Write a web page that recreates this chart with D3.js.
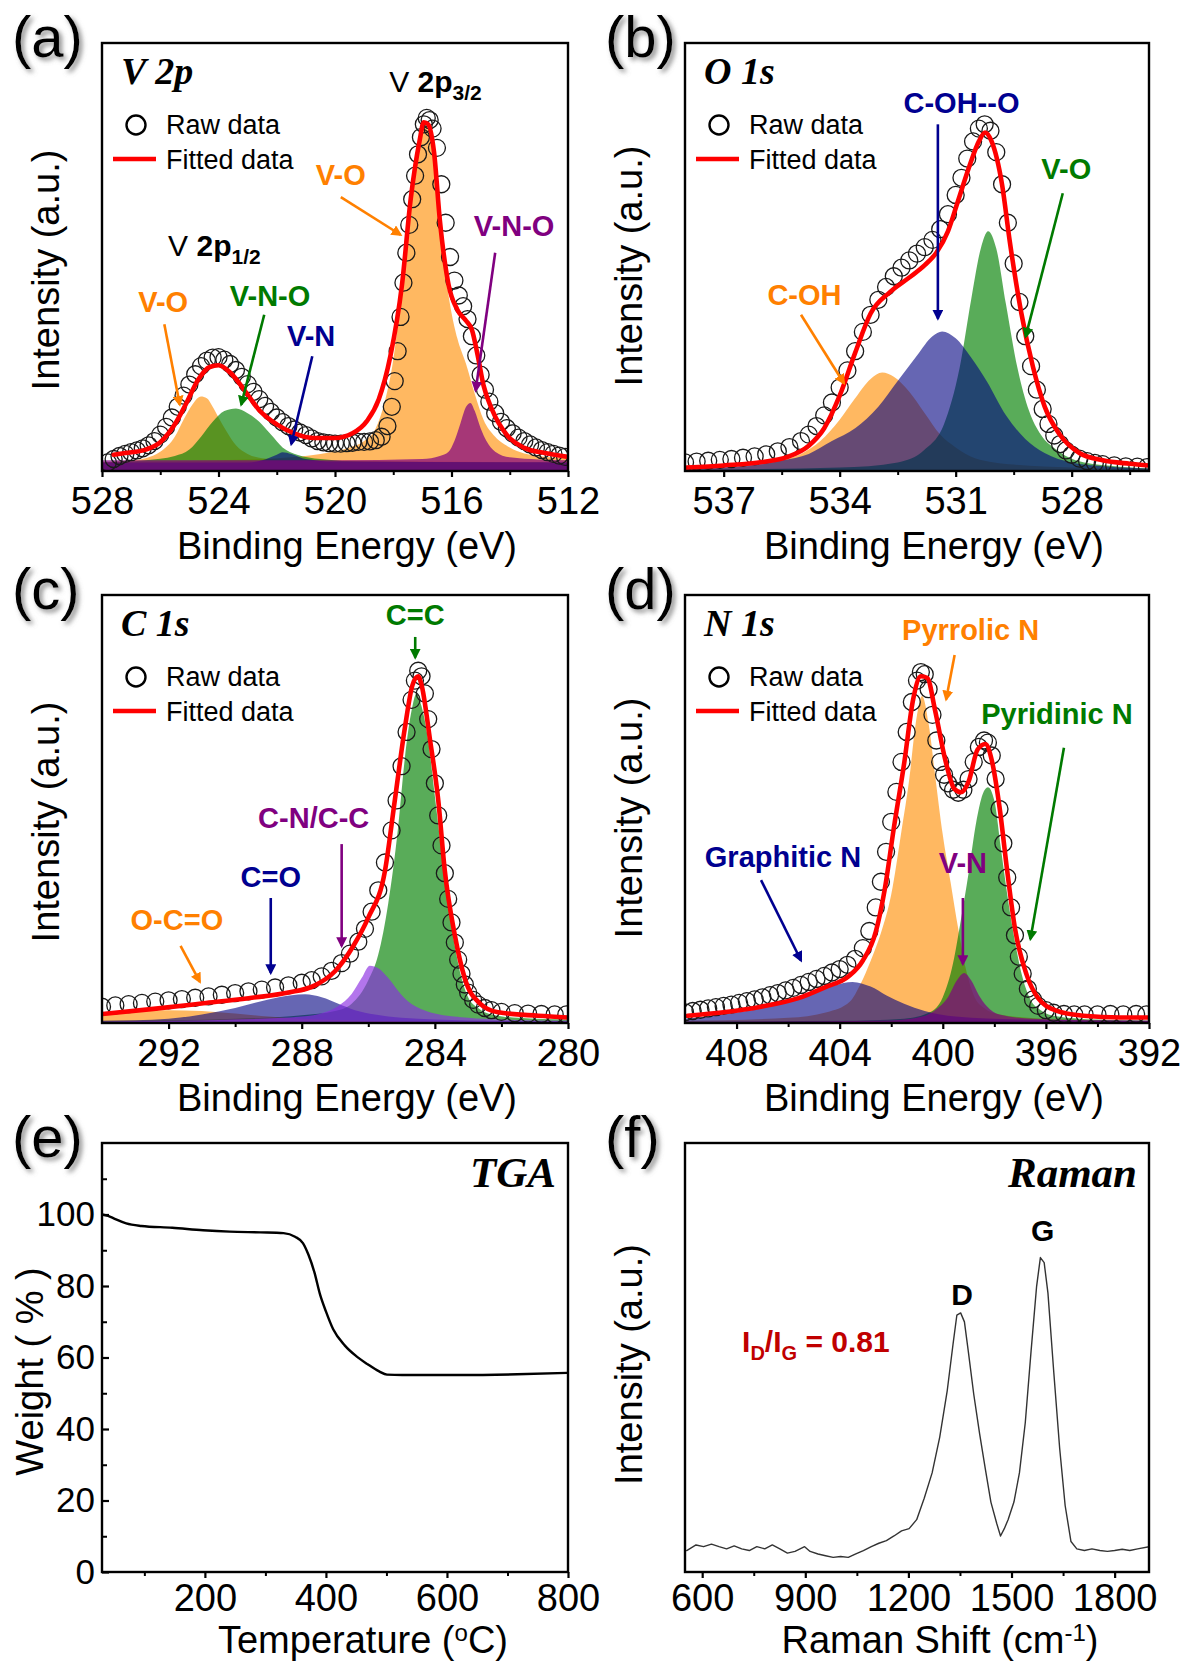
<!DOCTYPE html>
<html>
<head>
<meta charset="utf-8">
<script src="https://cdn.jsdelivr.net/npm/d3@7"></script>
<style>
  body { margin: 0; background: #fff; }
  svg { display: block; background: #fff; }
</style>
</head>
<body>
<div id="chart"></div>
<script>
/* XPS (V 2p, O 1s, C 1s, N 1s), TGA and Raman panels. */

// ---- (a) V 2p : [binding energy, intensity %] ----
const v2pRaw = [[527.8,2.0],[527.6,2.8],[527.4,3.5],[527.2,4.0],[527.0,4.4],[526.8,4.8],[526.6,5.3],[526.4,6.0],[526.2,7.0],[526.0,8.5],
  [525.8,10.3],[525.6,12.5],[525.4,15.0],[525.2,17.6],[525.0,20.2],[524.8,22.6],[524.6,24.5],[524.4,25.8],[524.2,26.5],[524.0,26.6],
  [523.8,26.0],[523.6,25.0],[523.4,23.6],[523.2,22.0],[523.0,20.3],[522.8,18.5],[522.6,16.8],[522.4,15.2],[522.2,13.8],[522.0,12.5],
  [521.8,11.4],[521.6,10.5],[521.4,9.7],[521.2,9.0],[521.0,8.4],[520.8,7.6],[520.6,7.0],[520.4,6.7],[520.2,6.5],[520.0,6.4],
  [519.8,6.4],[519.6,6.5],[519.4,6.6],[519.2,6.8],[519.0,6.8],[518.8,6.9],[518.6,7.2],[518.4,8.0],[518.2,10.5],[518.05,15],
  [517.95,21],[517.85,28],[517.75,36],[517.65,44],[517.55,51],[517.45,57.5],[517.35,63.5],[517.25,69],[517.15,74],[517.05,78],
  [516.95,81],[516.85,82.5],[516.75,82],[516.65,80],[516.5,75.5],[516.35,67],[516.2,58],[516.05,50],[515.9,44.5],[515.75,41],
  [515.6,38.5],[515.45,35.5],[515.3,31.5],[515.15,27],[515.0,22.5],[514.85,19],[514.7,16.2],[514.5,13.5],[514.3,11.5],[514.1,10],
  [513.9,8.8],[513.7,7.8],[513.5,7.0],[513.3,6.2],[513.1,5.5],[512.9,4.9],[512.7,4.4],[512.5,4.0],[512.3,3.6],[512.1,3.3]];
const v2pFit = [[527.6,3.8],[527.2,4.2],[526.5,5.0],[526.0,6.7],[525.5,10.9],[525.1,15.9],[524.7,21.3],[524.3,24.3],[524.0,24.7],
  [523.6,23.0],[523.1,18.8],[522.6,14.2],[522.0,10.9],[521.4,8.8],[520.7,7.7],[520.0,7.7],[519.4,8.8],[518.9,11.7],[518.5,16.7],
  [518.1,26.8],[517.7,43.5],[517.4,63.6],[517.1,77],[516.95,81.5],[516.8,81],[516.6,74.5],[516.4,58.6],[516.1,43.5],[515.8,37.7],
  [515.5,35.1],[515.3,33],[515.1,27],[514.9,20],[514.6,14.2],[514.1,8.4],[513.5,5.4],[512.8,4.2],[512.0,3.3]];
const v2pVO32 = [[528,2],[524,2.5],[522,3],[520.5,4],[519.5,5.5],[519,7],[518.6,10],[518.3,16],[518.0,26],[517.7,43],[517.5,56],
  [517.3,67],[517.1,77],[516.95,81],[516.8,79.5],[516.6,73],[516.4,60],[516.2,46],[516.0,37],[515.8,31],[515.5,25],[515.2,18],
  [514.9,12],[514.5,8],[514.0,5.5],[513.0,3.5],[512,3]];
const v2pVO12 = [[528,2],[527,2.5],[526.5,3],[526,4.5],[525.5,8],[525.2,12],[524.9,15.5],[524.6,17.4],[524.4,17],[524.2,15],
  [524,12.5],[523.7,9],[523.4,6],[523,4],[522.5,3],[521,2.5],[512,2]];
const v2pVNO12 = [[528,2],[526.5,2.5],[525.5,3.5],[525,5],[524.6,8],[524.2,11.5],[523.8,14],[523.4,14.6],[523.0,13.5],[522.6,11.5],
  [522.2,8.5],[521.8,5.5],[521.3,3.8],[520.5,2.8],[519,2.2],[512,2]];
const v2pVN = [[528,2],[523,2],[522.5,2.5],[522.0,3.8],[521.8,4.4],[521.5,4],[521.0,2.8],[520,2.2],[512,2]];
const v2pVNO32 = [[528,2.5],[520,2.5],[517,2.8],[516.4,3.5],[516.1,4.5],[515.9,7],[515.7,11],[515.5,15],[515.35,15.9],[515.2,14],
  [515.0,10],[514.8,7],[514.5,4.5],[514.0,3.2],[513,2.7],[512,2.5]];
const v2pTicks = [528, 524, 520, 516, 512], v2pMinor = [526, 522, 518, 514];

// ---- (b) O 1s ----
const o1sRaw = [[538.0,2.0],[537.7,2.2],[537.4,2.4],[537.1,2.6],[536.8,2.8],[536.5,3.1],[536.2,3.4],[535.9,3.9],[535.6,4.6],[535.3,5.6],
  [535.0,7.0],[534.8,8.5],[534.6,10.5],[534.4,13.0],[534.2,16.0],[534.0,19.5],[533.8,23.5],[533.6,28.0],[533.4,32.5],[533.2,36.5],
  [533.0,40.0],[532.8,43.0],[532.6,45.5],[532.4,47.5],[532.2,49.2],[532.0,50.8],[531.8,52.3],[531.6,54.0],[531.4,56.5],[531.2,60.0],
  [531.0,64.5],[530.85,68.5],[530.7,73],[530.55,77],[530.4,80],[530.25,81],[530.1,79.5],[529.95,74.5],[529.8,67],[529.65,58],
  [529.5,48.5],[529.35,39.5],[529.2,31.5],[529.05,24.5],[528.9,19],[528.75,14.5],[528.6,11],[528.45,8.3],[528.3,6.3],[528.15,4.8],
  [528.0,3.8],[527.8,2.9],[527.6,2.3],[527.4,1.9],[527.2,1.6],[526.9,1.3],[526.6,1.1],[526.3,1.0],[526.05,0.9]];
const o1sFit = [[537.95,0.8],[537,1.3],[536,2.1],[535.35,3.3],[534.8,5.9],[534.4,10],[534.0,17.6],[533.6,27.6],[533.2,36.8],
  [532.7,41.8],[532.2,45.2],[531.8,48.1],[531.5,51],[531.2,56],[530.95,62.8],[530.65,71.1],[530.4,77],[530.24,79.1],[530.07,77],
  [529.8,66.9],[529.6,53.6],[529.3,36.8],[529.0,24.3],[528.7,15.1],[528.3,8.4],[527.8,4.2],[527.2,2.5],[526.5,1.7],[526,1.3]];
const o1sCOH = [[538,0.5],[536.5,1],[535.5,2.5],[535,4],[534.5,7],[534,12],[533.6,17],[533.2,21.5],[532.9,23],[532.6,22],
  [532.2,18.5],[531.8,13.5],[531.4,8.5],[531,5.5],[530.5,3],[529.5,1.5],[528,0.8],[526,0.5]];
const o1sVO = [[538,0.3],[534,0.8],[532.5,2],[531.8,5],[531.3,11],[530.9,24],[530.6,40],[530.35,52],[530.16,56],[529.95,52],
  [529.7,39],[529.4,24],[529.1,14],[528.8,8.5],[528.4,5],[527.9,2.5],[527,1.2],[526,0.6]];
const o1sCOHO = [[538,0.5],[536.5,1.2],[535.5,2.5],[534.8,4],[534.2,7],[533.6,10],[533,15],[532.5,21],[532,27],[531.6,31.5],
  [531.35,32.6],[531.0,31],[530.6,26.5],[530.2,21],[529.7,13],[529.2,7.5],[528.7,4.2],[528,2],[527,1],[526,0.6]];
const o1sTicks = [537, 534, 531, 528], o1sMinor = [535.5, 532.5, 529.5, 526.5];

// ---- (c) C 1s ----
const c1sRaw = [[294.0,3.8],[293.6,4.1],[293.2,4.4],[292.8,4.7],[292.4,5.0],[292.0,5.3],[291.6,5.6],[291.2,5.9],[290.8,6.2],[290.4,6.6],
  [290.0,7.0],[289.6,7.4],[289.2,7.8],[288.8,8.3],[288.4,8.8],[288.0,9.4],[287.7,10.0],[287.4,10.9],[287.1,12.2],[286.8,14.0],
  [286.55,16.2],[286.3,19.0],[286.1,22.0],[285.9,26.0],[285.7,31.0],[285.5,37.5],[285.3,45.0],[285.15,52],[285.0,60],[284.85,68],
  [284.7,75.5],[284.6,80],[284.5,82.3],[284.4,81],[284.3,77],[284.2,71],[284.1,64],[284.0,56],[283.9,48.5],[283.8,41.5],
  [283.7,35],[283.6,29],[283.5,23.5],[283.4,18.8],[283.3,14.8],[283.2,11.5],[283.1,9.0],[283.0,7.1],[282.85,5.4],[282.7,4.3],
  [282.5,3.5],[282.3,3.0],[282.0,2.6],[281.6,2.3],[281.2,2.2],[280.8,2.1],[280.4,2.0],[280.05,2.0]];
const c1sFit = [[294,2.1],[292.45,3.3],[290.95,4.6],[289.6,5.8],[288.4,7.1],[287.6,8.8],[287.0,12.1],[286.45,18],[286.0,24.6],
  [285.5,35.5],[285.2,52.2],[284.9,69],[284.67,79],[284.5,81],[284.4,79],[284.15,66.4],[283.9,52.2],[283.7,35.5],[283.4,20.5],
  [283.1,10.4],[282.65,4.6],[282.1,2.5],[280.9,1.7],[280,1.3]];
const c1sCC = [[294,0.5],[290,1],[288,1.8],[287,2.8],[286.5,4.5],[286,10],[285.7,16],[285.4,28],[285.1,46],[284.9,62],[284.7,73],
  [284.55,77],[284.4,74],[284.2,66],[284.0,53],[283.8,40],[283.6,28],[283.4,18],[283.2,10.5],[283.0,6],[282.7,3.5],[282.3,2],
  [281.5,1.2],[280,0.8]];
const c1sOCO = [[294,2.2],[293,2.7],[292,3],[291,2.8],[290,2.2],[289,1.5],[288,1],[287,0.7],[285,0.4],[280,0.3]];
const c1sCO = [[294,0.5],[292,1],[291,2],[290,3.5],[289,5.5],[288.3,6.5],[287.9,6.7],[287.4,6],[286.9,4.5],[286.4,3],[285.8,2],
  [285,1.2],[283,0.6],[280,0.4]];
const c1sCN = [[294,0.3],[290,0.8],[288,1.5],[287.3,2.5],[286.9,4],[286.5,6.8],[286.2,10.5],[285.95,13.4],[285.7,12.8],[285.4,10.5],
  [285.1,7.5],[284.8,5],[284.4,3.2],[284,2.2],[283,1.2],[282,0.8],[280,0.5]];
const c1sTicks = [292, 288, 284, 280], c1sMinor = [290, 286, 282];

// ---- (d) N 1s ----
const n1sRaw = [[410.0,2.5],[409.7,2.8],[409.4,3.1],[409.1,3.4],[408.8,3.7],[408.5,4.0],[408.2,4.3],[407.9,4.7],[407.6,5.1],[407.3,5.5],
  [407.0,6.0],[406.7,6.5],[406.4,7.0],[406.1,7.6],[405.8,8.2],[405.5,8.9],[405.2,9.6],[404.9,10.3],[404.6,11.0],[404.3,11.8],
  [404.0,12.6],[403.7,13.6],[403.4,15.0],[403.1,17.5],[402.85,21.5],[402.6,27],[402.4,33],[402.2,40],[402.0,47],[401.8,54],
  [401.6,61],[401.4,68],[401.2,75],[401.0,80],[400.85,82],[400.7,81.5],[400.55,78],[400.4,72],[400.25,66],[400.1,61],
  [399.95,58],[399.8,56],[399.6,54.5],[399.4,53.8],[399.2,54.5],[399.0,57],[398.8,61],[398.6,64.5],[398.4,66],[398.25,65.5],
  [398.1,62.5],[397.95,57],[397.8,50],[397.65,42],[397.5,34],[397.35,27],[397.2,20.5],[397.05,15.5],[396.9,11.5],[396.7,8],
  [396.5,5.5],[396.3,4.0],[396.0,3.0],[395.7,2.4],[395.3,2.1],[394.9,2.0],[394.5,2.0],[394.0,2.0],[393.5,2.1],[393.0,2.0],
  [392.5,2.1],[392.1,2.0]];
const n1sFit = [[409.9,1.7],[408.5,2.5],[407.05,3.8],[405.6,5.8],[404.55,8.4],[403.65,10.9],[403.1,14.6],[402.6,21.3],[402.25,31.3],
  [401.9,45.5],[401.5,60.6],[401.15,75.6],[400.85,81],[400.6,80.6],[400.3,73.1],[399.9,61.4],[399.55,54.7],[399.3,53.9],
  [399.0,56.4],[398.65,63.9],[398.35,65.2],[398.1,61.4],[397.8,50.5],[397.5,35.5],[397.2,22.1],[396.75,11.3],[396.3,5.8],
  [395.6,2.9],[394.55,1.7],[393.1,1.3],[392,1.3]];
const n1sPyrrolic = [[410,0.5],[406,1.2],[404.5,2.5],[403.6,5],[403.2,9],[402.8,14.5],[402.4,21],[402,30],[401.6,45],[401.3,57],
  [401.05,70],[400.8,76.4],[400.55,70],[400.3,58],[400.0,44],[399.7,33],[399.4,22],[399.1,12.5],[398.8,6.5],[398.4,3.5],
  [397.8,2],[396,1],[392,0.5]];
const n1sPyridinic = [[410,0.3],[404,0.5],[401.5,1],[400.5,2.5],[400,6],[399.6,14],[399.3,24],[399.0,35],[398.7,47],[398.45,53.5],
  [398.25,55.1],[398.0,52],[397.75,41],[397.5,30],[397.2,19],[396.9,10.5],[396.6,5.5],[396.2,3],[395.6,1.6],[394,0.8],[392,0.5]];
const n1sGraphitic = [[410,1],[408.5,2],[407,3.5],[406,5],[405,7],[404.2,8.8],[403.5,9.6],[402.8,8.5],[402.2,6.5],[401.5,4.5],
  [400.7,2.8],[399.5,1.5],[397,0.8],[392,0.5]];
const n1sVN = [[410,0.3],[402,0.6],[400.8,1.5],[400.3,3],[399.8,6],[399.45,10],[399.17,11.7],[398.9,10],[398.6,6.5],[398.3,4],
  [397.8,2],[396.5,1],[392,0.5]];
const n1sTicks = [408, 404, 400, 396, 392], n1sMinor = [406, 402, 398, 394];

// ---- (e) TGA : [temperature, weight %] ----
const tga = [[30,100],[40,99.6],[51,98.8],[70,97.5],[95,96.8],[146,96.3],[197,95.6],[241,95.2],[292,95.0],[330,94.8],
  [349,93.8],[362,92],[371,88.8],[381,83.8],[390,77.8],[400,72.9],[412,67.9],[431,63.4],[450,60.4],[469,58.1],[488,56.1],
  [501,55.2],[526,55.1],[621,55.1],[716,55.3],[799,55.7]];
const tgaXTicks = [200, 400, 600, 800], tgaXMinor = [100, 300, 500, 700];
const tgaYTicks = [0, 20, 40, 60, 80, 100], tgaYMinor = [10, 30, 50, 70, 90, 110];

// ---- (f) Raman : [shift, intensity %] ----
const raman = [[555,5.0],[582,6.3],[604,5.9],[627,6.5],[649,5.9],[671,5.4],[693,6.1],[715,5.4],[737,5.0],[759,5.9],[782,5.4],
  [804,6.3],[826,5.4],[848,4.4],[870,4.8],[898,5.9],[914,4.8],[937,4.2],[959,3.8],[981,3.4],[1003,3.6],[1025,3.4],[1047,4.2],
  [1069,5.0],[1092,5.9],[1114,6.7],[1136,7.3],[1158,8.4],[1180,9.6],[1202,10.1],[1224,12.2],[1246,17.2],[1269,23.1],[1291,31.4],
  [1313,42.3],[1330,53.2],[1341,59.9],[1352,60.4],[1363,58.3],[1374,51.6],[1390,41.5],[1407,32.3],[1424,23.9],[1440,16.3],
  [1457,11.3],[1468,8.4],[1479,10.1],[1490,12.2],[1507,16.3],[1523,23.1],[1540,34.8],[1557,51.6],[1573,66.6],[1584,73.3],
  [1595,72.1],[1606,65.0],[1623,46.5],[1640,28.9],[1656,15.5],[1673,7.1],[1690,5.4],[1712,5.0],[1734,5.4],[1757,5.0],
  [1779,4.8],[1800,5.0],[1822,5.3],[1844,5.0],[1867,5.4],[1900,5.9]];
const ramanTicks = [600, 900, 1200, 1500, 1800], ramanMinor = [750, 1050, 1350, 1650];

// ---- layout ----
const width = 1186, height = 1662;
const SANS = '"Liberation Sans", Arial, sans-serif';
const SERIF = '"Liberation Serif", "Times New Roman", serif';
const colLeft = [102, 685], colW = [466, 464];
const rowTop = [43, 595, 1143], rowH = 428;

const C = {
  orange: "#ff8c00", green: "#008000", navy: "#000080", purple: "#800080", violet: "#8a2be2",
  tOrange: "#ff8000", tGreen: "#007a00", tNavy: "#000090", tPurple: "#800080"
};

const svg = d3.select("#chart").append("svg")
  .attr("width", width).attr("height", height)
  .attr("font-family", SANS);
svg.append("rect").attr("width", width).attr("height", height).attr("fill", "#fff");

const defs = svg.append("defs");
defs.append("filter").attr("id", "shadow").attr("x", "-30%").attr("y", "-30%").attr("width", "160%").attr("height", "160%")
  .append("feDropShadow").attr("dx", 3).attr("dy", 3).attr("stdDeviation", 2.5)
  .attr("flood-color", "#777").attr("flood-opacity", 0.85);

for (const key of ["tOrange", "tGreen", "tNavy", "tPurple"]) {
  defs.append("marker").attr("id", "head-" + key)
    .attr("viewBox", "0 0 10 10").attr("refX", 8).attr("refY", 5)
    .attr("markerWidth", 4.2).attr("markerHeight", 4.2).attr("orient", "auto")
    .append("path").attr("d", "M0,0L10,5L0,10z").attr("fill", C[key]);
}

function makePanel(id, col, row, xDomain, yDomain) {
  const left = colLeft[col], w = colW[col], top = rowTop[row], h = rowH + (row === 2 ? 1 : 0);
  const x = d3.scaleLinear().domain(xDomain).range([left, left + w]);
  const y = d3.scaleLinear().domain(yDomain).range([top + h, top]);
  const g = svg.append("g").attr("id", "panel-" + id);
  defs.append("clipPath").attr("id", "clip-" + id)
    .append("rect").attr("x", left).attr("y", top).attr("width", w).attr("height", h);
  const plot = g.append("g").attr("clip-path", `url(#clip-${id})`);
  return { id, left, top, w, h, x, y, g, plot, col };
}

function fill(p, data, color, op) {
  const area = d3.area()
    .x(d => p.x(d[0]))
    .y0(p.y(0))
    .y1(d => p.y(d[1]))
    .curve(d3.curveMonotoneX);
  p.plot.append("path").datum(data).attr("d", area)
    .attr("fill", color).attr("fill-opacity", op).attr("stroke", "none");
}

function rawCircles(p, data) {
  p.plot.append("g").selectAll("circle").data(data).join("circle")
    .attr("cx", d => p.x(d[0])).attr("cy", d => p.y(d[1])).attr("r", 8.5)
    .attr("fill", "none").attr("stroke", "#1a1a1a").attr("stroke-width", 1.3);
}

function line(p, data, color, sw, curve) {
  const ln = d3.line().x(d => p.x(d[0])).y(d => p.y(d[1])).curve(curve || d3.curveMonotoneX);
  p.plot.append("path").datum(data).attr("d", ln)
    .attr("fill", "none").attr("stroke", color).attr("stroke-width", sw)
    .attr("stroke-linejoin", "round").attr("stroke-linecap", "round");
}

function xAxis(p, major, minor, pad) {
  const base = p.top + p.h;
  const ax = p.g.append("g").attr("transform", `translate(0,${base})`)
    .call(d3.axisBottom(p.x).tickValues(major).tickSize(6).tickPadding(pad || 10).tickFormat(d3.format("d")));
  ax.attr("font-size", 38).attr("font-family", SANS);
  ax.select(".domain").remove();
  ax.selectAll(".tick line").attr("stroke-width", 2.2);
  ax.selectAll(".tick text").attr("fill", "#000");
  const mn = p.g.append("g").attr("transform", `translate(0,${base})`)
    .call(d3.axisBottom(p.x).tickValues(minor).tickSize(4).tickFormat(""));
  mn.select(".domain").remove();
  mn.selectAll(".tick line").attr("stroke-width", 2);
}

function frame(p) {
  p.g.append("rect").attr("x", p.left).attr("y", p.top).attr("width", p.w).attr("height", p.h)
    .attr("fill", "none").attr("stroke", "#000").attr("stroke-width", 2.4);
}

function xTitle(p, dx) {
  return p.g.append("text").attr("x", p.left + p.w / 2 + dx).attr("y", p.top + p.h + 88)
    .attr("text-anchor", "middle").attr("font-size", 38).attr("fill", "#000");
}

function yTitle(p, text, dx, dy) {
  const cx = p.left + dx, cy = p.top + p.h / 2 + dy;
  p.g.append("text").attr("transform", `translate(${cx},${cy}) rotate(-90)`)
    .attr("text-anchor", "middle").attr("dy", "0.35em")
    .attr("font-size", 38).attr("fill", "#000").text(text);
}

function panelLabel(p, text) {
  p.g.append("text").attr("x", p.left - (p.col === 0 ? 90 : 80)).attr("y", p.top + 14)
    .attr("font-size", 58).attr("fill", "#000").attr("filter", "url(#shadow)").text(text);
}

function title(p, text, right) {
  p.g.append("text")
    .attr("x", right ? p.left + p.w - 12 : p.left + 19).attr("y", p.top + (right ? 44 : 41))
    .attr("text-anchor", right ? "end" : "start")
    .attr("font-family", SERIF).attr("font-style", "italic").attr("font-weight", "bold")
    .attr("font-size", right ? 43 : 38).attr("fill", "#000").text(text);
}

function legend(p) {
  const g = p.g.append("g").attr("font-size", 27).attr("fill", "#000");
  g.append("circle").attr("cx", p.left + 34).attr("cy", p.top + 82).attr("r", 9.5)
    .attr("fill", "none").attr("stroke", "#000").attr("stroke-width", 2.4);
  g.append("text").attr("x", p.left + 64).attr("y", p.top + 91).text("Raw data");
  g.append("line").attr("x1", p.left + 11).attr("x2", p.left + 54)
    .attr("y1", p.top + 116).attr("y2", p.top + 116)
    .attr("stroke", "#f00").attr("stroke-width", 4.5);
  g.append("text").attr("x", p.left + 64).attr("y", p.top + 126).text("Fitted data");
}

function note(p, text, color, at, from, to) {
  p.g.append("text").attr("x", p.x(at[0])).attr("y", p.y(at[1]))
    .attr("text-anchor", "middle").attr("font-size", 29).attr("font-weight", "bold")
    .attr("fill", C[color]).text(text);
  p.g.append("line")
    .attr("x1", p.x(from[0])).attr("y1", p.y(from[1]))
    .attr("x2", p.x(to[0])).attr("y2", p.y(to[1]))
    .attr("stroke", C[color]).attr("stroke-width", 2.6)
    .attr("marker-end", `url(#head-${color})`);
}

function peakLabel(p, at, sub) {
  const t = p.g.append("text").attr("x", p.x(at[0])).attr("y", p.y(at[1]))
    .attr("font-size", 30).attr("fill", "#000");
  t.append("tspan").text("V ");
  t.append("tspan").attr("font-weight", "bold").text("2p");
  t.append("tspan").attr("font-weight", "bold").attr("font-size", 21).attr("dy", 8).text(sub);
}

function xpsCommon(p, raw, fit, major, minor, label, name, dx, ydy) {
  rawCircles(p, raw);
  line(p, fit, "#f00", 4.6);
  frame(p);
  xAxis(p, major, minor);
  xTitle(p, dx).text("Binding Energy (eV)");
  yTitle(p, "Intensity (a.u.)", -56, ydy);
  panelLabel(p, label);
  title(p, name, false);
  legend(p);
}

// ---- (a) ----
const pa = makePanel("a", 0, 0, [528, 512], [0, 100]);
fill(pa, v2pVO32, C.orange, 0.62);
fill(pa, v2pVO12, C.orange, 0.62);
fill(pa, v2pVNO12, C.green, 0.65);
fill(pa, v2pVN, C.navy, 0.6);
fill(pa, v2pVNO32, C.purple, 0.7);
xpsCommon(pa, v2pRaw, v2pFit, v2pTicks, v2pMinor, "(a)", "V 2p", 12, 13);
peakLabel(pa, [518.14, 88.5], "3/2");
peakLabel(pa, [525.73, 50.2], "1/2");
note(pa, "V-O", "tOrange", [519.8, 66.9], [519.8, 64.0], [517.75, 55.2]);
note(pa, "V-N-O", "tPurple", [513.85, 54.8], [514.5, 51], [515.17, 18.8]);
note(pa, "V-O", "tOrange", [525.9, 37.2], [525.86, 34.3], [525.33, 15.5]);
note(pa, "V-N-O", "tGreen", [522.23, 38.5], [522.43, 36.5], [523.22, 15.5]);
note(pa, "V-N", "tNavy", [520.82, 29.3], [520.78, 26.8], [521.5, 6.3]);

// ---- (b) ----
const pb = makePanel("b", 1, 0, [538, 526], [0, 100]);
fill(pb, o1sCOH, C.orange, 0.62);
fill(pb, o1sVO, C.green, 0.65);
fill(pb, o1sCOHO, C.navy, 0.6);
xpsCommon(pb, o1sRaw, o1sFit, o1sTicks, o1sMinor, "(b)", "O 1s", 17, 9);
note(pb, "C-OH--O", "tNavy", [530.85, 83.7], [531.46, 81.0], [531.46, 35.6]);
note(pb, "V-O", "tGreen", [528.14, 68.2], [528.23, 64.9], [529.19, 31.4]);
note(pb, "C-OH", "tOrange", [534.91, 38.9], [535.0, 36.5], [533.89, 20.5]);

// ---- (c) ----
const pc = makePanel("c", 0, 1, [294, 280], [0, 100]);
fill(pc, c1sCC, C.green, 0.65);
fill(pc, c1sOCO, C.orange, 0.62);
fill(pc, c1sCO, C.navy, 0.6);
fill(pc, c1sCN, C.violet, 0.65);
xpsCommon(pc, c1sRaw, c1sFit, c1sTicks, c1sMinor, "(c)", "C 1s", 12, 13);
note(pc, "C=C", "tGreen", [284.59, 93.1], [284.59, 90.2], [284.59, 85.4]);
note(pc, "C-N/C-C", "tPurple", [287.64, 45.5], [286.8, 41.8], [286.8, 18]);
note(pc, "C=O", "tNavy", [288.93, 31.7], [288.93, 29.2], [288.93, 11.7]);
note(pc, "O-C=O", "tOrange", [291.75, 21.7], [291.64, 18], [291.06, 9.6]);

// ---- (d) ----
const pd = makePanel("d", 1, 1, [410, 392], [0, 100]);
fill(pd, n1sPyrrolic, C.orange, 0.62);
fill(pd, n1sPyridinic, C.green, 0.65);
fill(pd, n1sGraphitic, C.navy, 0.6);
fill(pd, n1sVN, C.purple, 0.7);
xpsCommon(pd, n1sRaw, n1sFit, n1sTicks, n1sMinor, "(d)", "N 1s", 17, 9);
note(pd, "Pyrrolic N", "tOrange", [398.92, 89.4], [399.54, 86], [399.87, 75.6]);
note(pd, "Pyridinic N", "tGreen", [395.57, 69.8], [395.3, 64.3], [396.6, 19.6]);
note(pd, "Graphitic N", "tNavy", [406.2, 36.5], [407.05, 33.4], [405.5, 14.6]);
note(pd, "V-N", "tPurple", [399.22, 35.1], [399.22, 29.2], [399.22, 13.8]);

// ---- (e) TGA ----
const pe = makePanel("e", 0, 2, [30, 800], [0, 120]);
line(pe, tga, "#000", 2.4, d3.curveMonotoneX);
frame(pe);
xAxis(pe, tgaXTicks, tgaXMinor, 6);
{
  const ay = pe.g.append("g").attr("transform", `translate(${pe.left},0)`)
    .call(d3.axisLeft(pe.y).tickValues(tgaYTicks).tickSizeInner(-7).tickSizeOuter(0).tickPadding(7).tickFormat(d3.format("d")));
  ay.attr("font-size", 35).attr("font-family", SANS);
  ay.select(".domain").remove();
  ay.selectAll(".tick line").attr("stroke-width", 2.2);
  ay.selectAll(".tick text").attr("fill", "#000");
  const my = pe.g.append("g").attr("transform", `translate(${pe.left},0)`)
    .call(d3.axisLeft(pe.y).tickValues(tgaYMinor).tickSizeInner(-5).tickSizeOuter(0).tickFormat(""));
  my.select(".domain").remove();
  my.selectAll(".tick line").attr("stroke-width", 2);
}
{
  const t = xTitle(pe, 28);
  t.attr("y", pe.top + pe.h + 81);
  t.append("tspan").text("Temperature (");
  t.append("tspan").attr("font-size", 24).attr("dy", -12).text("o");
  t.append("tspan").attr("dy", 12).text("C)");
}
yTitle(pe, "Weight ( % )", -72, 14);
panelLabel(pe, "(e)");
title(pe, "TGA", true);

// ---- (f) Raman ----
const pf = makePanel("f", 1, 2, [550, 1900], [0, 100]);
line(pf, raman, "#333", 1.4, d3.curveLinear);
frame(pf);
xAxis(pf, ramanTicks, ramanMinor, 6);
{
  const t = xTitle(pf, 23);
  t.attr("y", pf.top + pf.h + 81);
  t.append("tspan").text("Raman Shift (cm");
  t.append("tspan").attr("font-size", 24).attr("dy", -12).text("-1");
  t.append("tspan").attr("dy", 12).text(")");
}
yTitle(pf, "Intensity (a.u.)", -56, 7);
panelLabel(pf, "(f)");
title(pf, "Raman", true);
pf.g.append("text").attr("x", pf.x(1356)).attr("y", pf.y(62.2)).attr("text-anchor", "middle")
  .attr("font-size", 30).attr("font-weight", "bold").attr("fill", "#000").text("D");
pf.g.append("text").attr("x", pf.x(1591)).attr("y", pf.y(77.2)).attr("text-anchor", "middle")
  .attr("font-size", 30).attr("font-weight", "bold").attr("fill", "#000").text("G");
{
  const t = pf.g.append("text").attr("x", pf.x(716)).attr("y", pf.y(51.3))
    .attr("font-size", 30).attr("font-weight", "bold").attr("fill", "#c00000");
  t.append("tspan").text("I");
  t.append("tspan").attr("font-size", 20).attr("dy", 8).text("D");
  t.append("tspan").attr("dy", -8).text("/I");
  t.append("tspan").attr("font-size", 20).attr("dy", 8).text("G");
  t.append("tspan").attr("dy", -8).text(" = 0.81");
}
</script>
</body>
</html>
